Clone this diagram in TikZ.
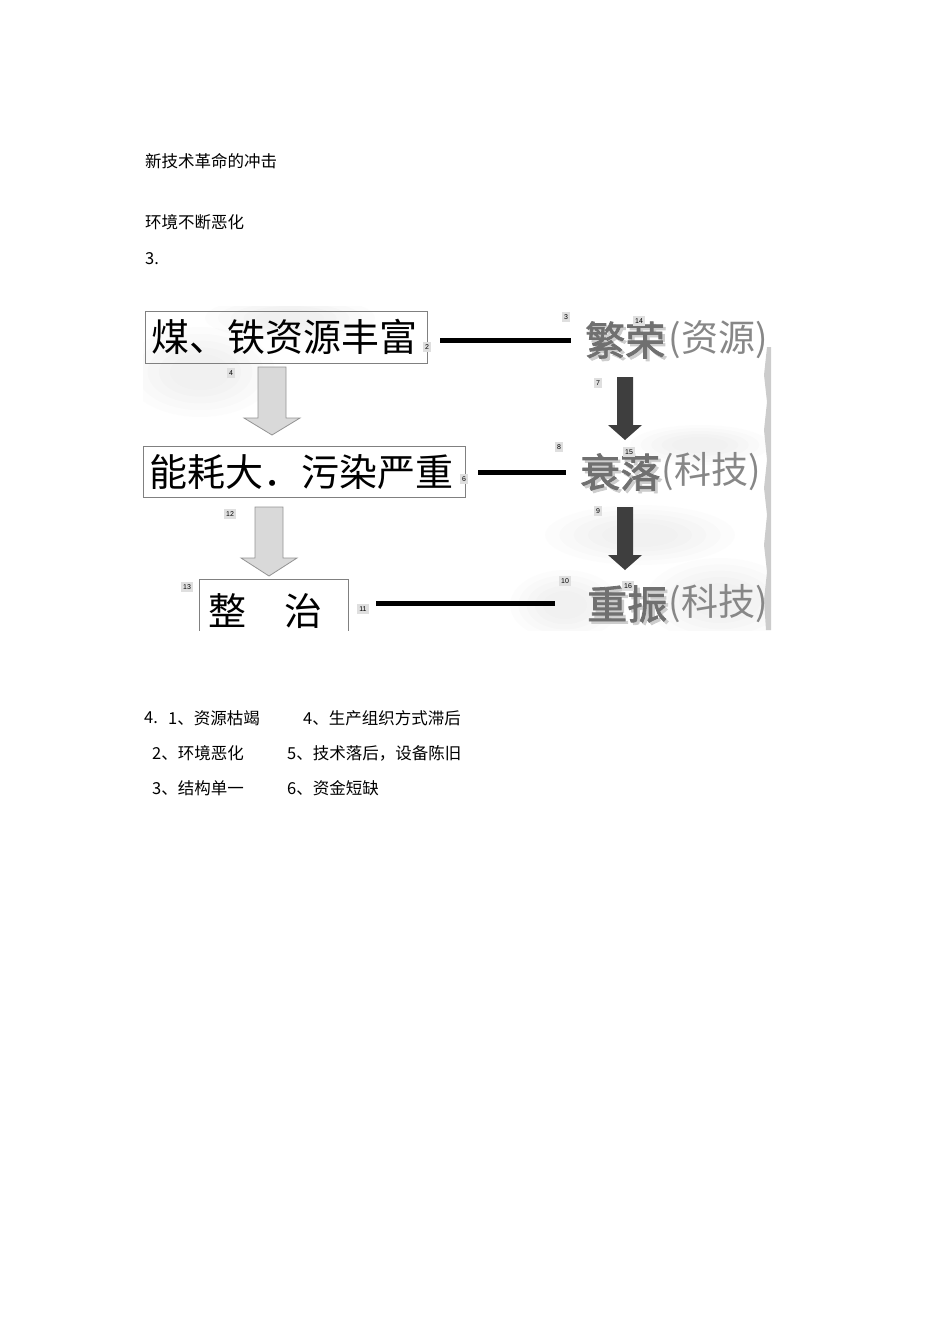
\documentclass[tikz,border=0pt]{standalone}
\usepackage{fontspec}
\usepackage{xcolor}
\usepackage{tikz}
\usetikzlibrary{positioning}
\usetikzlibrary{calc}
\newfontfamily\cjk{Noto Sans CJK SC}
\newfontfamily\cjkbold[FakeBold=2]{Noto Sans CJK SC}
\newfontfamily\tagfont{Liberation Sans}
\definecolor[named]{stagegray}{RGB}{112,112,112}
\definecolor[named]{shadowgray}{RGB}{205,205,205}
\definecolor[named]{parengray}{RGB}{135,135,135}
\definecolor[named]{darkarrow}{RGB}{62,62,62}

\begin{document}
\begin{tikzpicture}[x=1pt,y=-1pt,
    plain/.style={anchor=west,inner sep=0pt,font=\cjk\fontsize{16.5}{18}\selectfont},
    stepbox/.style={draw=gray,line width=0.8pt,anchor=north west,inner xsep=6pt,inner ysep=0pt,align=left,font=\cjk\fontsize{38}{40}\selectfont},
    stage/.style={anchor=west,inner sep=0pt,font=\cjkbold\fontsize{40}{42}\selectfont},
    paren/.style={inner sep=0pt,text=parengray,font=\cjk\fontsize{37}{40}\selectfont},
    numtag/.style={fill=gray!25,inner xsep=2pt,inner ysep=1.5pt,minimum height=9.5pt,font=\tagfont\fontsize{7}{8}\selectfont},
    link/.style={line width=5pt},
    hollow/.style={fill=gray!30,draw=gray!85,line width=0.8pt},
    solid/.style={fill=darkarrow}]
\useasboundingbox (0,0) rectangle (950,1344);
% text above the picture
\node[plain] (title1) at (145,161) {新技术革命的冲击};
\node[plain] (title2) at (145,222) {环境不断恶化};
\node[plain] (q3) at (145,259) {3.};
% picture
\begin{scope}
\clip (143,306) rectangle (771,630);
% soft clouds
\foreach \cx/\cy/\rx/\ry in {200/372/75/45, 290/318/85/22, 640/535/95/30,
    720/600/75/42, 565/605/55/35, 700/445/70/20} {
  \foreach \k in {1.0,0.85,0.7,0.55,0.4}
    \fill[gray,opacity=0.025] (\cx,\cy) ellipse ({\k*\rx} and {\k*\ry});
}
\fill[gray!40] (771,347) -- (771,630) -- (766,630) -- (764,600) -- (767,572)
  -- (764,545) -- (767,515) -- (764,488) -- (767,460) -- (764,430) -- (767,402)
  -- (764,375) -- (767,347) -- cycle;
\node[stepbox,text width=270pt,minimum height=52pt] (coal) at (145,311) {煤、铁资源丰富};
\node[stepbox,text width=310pt,minimum height=51pt] (pollute) at (143,446) {能耗大．污染严重};
\node[stepbox,inner xsep=9pt,text width=131pt,minimum height=64pt] (govern) at (199,579) {整　治};
\foreach \nm/\x/\y/\txt in {boom/585/340/繁荣, decline/580/472/衰落, revive/587/604/重振} {
  \node[stage,text=shadowgray] at (\x+2.5,\y+2.5) {\txt};
  \node[stage,text=stagegray] (\nm) at (\x,\y) {\txt};
}
\node[paren,right=3pt of boom] (boomwhy) {(资源)};
\node[paren,right=1pt of decline] (declinewhy) {(科技)};
\node[paren,right=1pt of revive] (revivewhy) {(科技)};
% hollow arrows on the left
\foreach \cx/\ya/\yb/\yc in {272/367/418/435, 269/507/558/576} {
  \filldraw[hollow] (\cx-14,\ya) -- (\cx+14,\ya) -- (\cx+14,\yb) -- (\cx+28,\yb)
    -- (\cx,\yc) -- (\cx-28,\yb) -- (\cx-14,\yb) -- cycle;
}
% dark arrows on the right
\foreach \ya/\yb/\yc in {377/425/440, 507/555/570} {
  \fill[solid] (617,\ya) -- (633,\ya) -- (633,\yb) -- (642,\yb) -- (625,\yc)
    -- (608,\yb) -- (617,\yb) -- cycle;
}
\coordinate (l1a) at (440,340);
\coordinate (l1b) at (571,340);
\coordinate (l2a) at (478,472);
\coordinate (l2b) at (566,472);
\coordinate (l3a) at (376,603);
\coordinate (l3b) at (555,603);
\draw[link] (l1a) -- (l1b);
\draw[link] (l2a) -- (l2b);
\draw[link] (l3a) -- (l3b);
\foreach \n/\x/\y in {2/427/347, 3/566/317, 4/231/373, 6/464/479, 7/598/383,
    8/559/447, 9/598/511, 10/565/581, 11/363/609, 12/230/514, 13/187/587,
    14/639/321, 15/629/452, 16/628/586} {
  \node[numtag] (tag\n) at (\x,\y) {\n};
}
\end{scope}
% answers below the picture
\node[plain] (q4) at (144,718) {4.};
\node[plain] (a1) at (168,718) {1、资源枯竭};
\node[plain] (a4) at (303,718) {4、生产组织方式滞后};
\node[plain] (a2) at (152,753) {2、环境恶化};
\node[plain] (a5) at (287,753) {5、技术落后，设备陈旧};
\node[plain] (a3) at (152,788) {3、结构单一};
\node[plain] (a6) at (287,788) {6、资金短缺};
\end{tikzpicture}
\end{document}
